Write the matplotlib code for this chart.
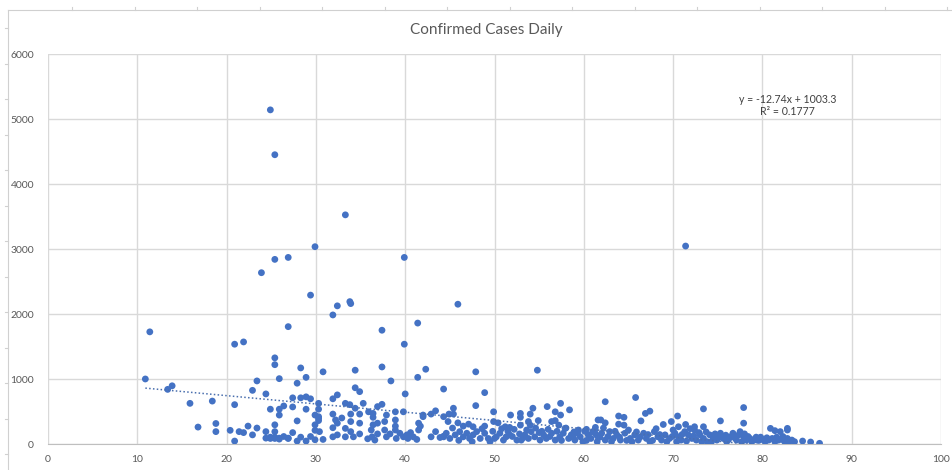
import numpy as np
import matplotlib
matplotlib.use("Agg")
import matplotlib.pyplot as plt
from matplotlib.lines import Line2D

plt.rcParams['font.family'] = ['Lato', 'DejaVu Sans']

TITLE = "Confirmed Cases Daily"
SLOPE = -12.74
INTERCEPT = 1003.3
R2 = 0.1777

# grouped by region (x, cases)
upper = [
    (24.9, 5145), (25.4, 4455), (33.3, 3530), (71.4, 3050), (29.9, 3040),
    (25.4, 2845), (26.9, 2875), (39.9, 2875), (23.9, 2640), (29.4, 2295),
    (32.4, 2130), (33.8, 2195), (33.9, 2165), (45.9, 2155), (31.9, 1990),
    (41.4, 1865), (11.4, 1730), (26.9, 1810), (37.4, 1755), (20.9, 1540),
    (21.9, 1575), (39.9, 1540), (25.4, 1330), (25.4, 1225),
]
left = [
    (10.9, 1005), (13.4, 845), (13.9, 900), (15.9, 630), (18.4, 665), (16.8, 265),
    (18.8, 320), (18.8, 195), (20.4, 215), (20.9, 610), (20.9, 50), (21.4, 195),
    (21.9, 180), (22.4, 280), (22.9, 145), (22.9, 830), (23.4, 975), (23.4, 250),
    (24.4, 775), (24.4, 195), (24.4, 95), (24.9, 540), (24.9, 110), (25.4, 300),
    (25.4, 195), (25.4, 110), (25.9, 1010), (25.9, 540), (25.9, 450), (25.9, 95),
    (26.4, 590), (26.4, 120), (26.9, 95), (27.4, 715), (27.4, 575), (27.4, 180),
    (27.9, 940), (27.9, 360), (27.9, 50), (28.3, 1175), (28.3, 715), (28.3, 110),
    (28.9, 1030), (28.9, 730), (28.9, 540), (28.9, 50), (29.4, 700), (29.4, 120),
    (29.9, 450), (29.9, 300), (29.9, 215), (29.9, 70), (30.3, 630), (30.3, 540),
    (30.3, 400), (30.4, 195), (24.9, 90), (25.4, 90), (25.9, 80), (26.9, 90),
]
middle = [
    (30.8, 1115), (34.4, 1140), (37.4, 1190), (38.4, 975), (41.4, 1030), (42.3, 1155),
    (44.3, 850), (34.4, 870), (34.9, 810), (40.0, 775), (31.9, 700), (32.4, 760),
    (33.3, 630), (33.8, 610), (34.4, 555), (35.3, 630), (35.9, 500), (36.4, 475),
    (36.9, 580), (37.4, 615), (38.9, 500), (39.8, 500), (42.0, 425), (42.9, 465),
    (43.4, 515), (44.3, 425), (30.3, 425), (30.3, 365), (31.9, 465), (32.2, 375),
    (32.4, 325), (32.9, 405), (33.9, 465), (33.9, 350), (34.9, 465), (34.9, 325),
    (36.4, 415), (36.4, 300), (36.9, 325), (37.7, 350), (37.9, 450), (38.9, 375),
    (38.9, 280), (30.8, 75), (31.9, 255), (31.9, 115), (32.4, 145), (33.3, 245),
    (33.3, 115), (33.9, 195), (34.2, 115), (34.9, 160), (35.8, 85), (36.2, 220),
    (36.3, 115), (36.6, 65), (36.9, 160), (37.7, 220), (37.9, 115), (38.3, 160),
    (38.9, 220), (39.0, 90), (39.4, 170), (39.8, 115), (40.2, 145), (40.3, 90),
    (40.6, 180), (40.9, 115), (41.3, 75), (41.5, 220), (41.5, 325), (41.7, 280),
    (42.9, 115), (43.4, 195), (43.9, 105), (44.3, 125), (42.0, 450),
]
right_mid = [
    (47.9, 1115), (54.8, 1140), (48.9, 795), (47.9, 595), (45.4, 555), (44.9, 465),
    (45.4, 465), (49.9, 500), (51.8, 450), (52.9, 475), (52.9, 415), (54.0, 465),
    (54.3, 555), (55.9, 580), (56.8, 500), (57.4, 630), (57.4, 450), (58.4, 530),
    (44.8, 350), (45.9, 330), (46.5, 280), (47.1, 310), (47.6, 270), (48.9, 280),
    (49.9, 350), (50.4, 330), (51.2, 270), (51.7, 260), (52.9, 295), (53.8, 350),
    (54.0, 295), (54.9, 365), (56.4, 350), (56.8, 365), (57.2, 295), (57.9, 245),
    (59.4, 220), (60.3, 230), (61.3, 260), (61.6, 375),
    (44.3, 115), (44.6, 170), (45.0, 90), (45.6, 145), (46.1, 195), (46.5, 115),
    (46.9, 170), (47.2, 90), (47.6, 145), (48.0, 195), (48.4, 90), (48.9, 170),
    (49.3, 90), (49.5, 40), (50.2, 115), (50.6, 170), (51.0, 65), (51.3, 115),
    (51.7, 145), (52.5, 65), (53.0, 65), (53.4, 145), (53.8, 90), (54.1, 195),
    (54.5, 115), (55.1, 65), (55.5, 145), (55.8, 90), (56.4, 170), (56.8, 65),
    (57.3, 115), (57.7, 170), (58.3, 90), (58.6, 145), (59.0, 65), (59.6, 115),
    (59.9, 40), (60.5, 145), (60.8, 90), (61.4, 145),
    (45.3, 250), (46.0, 60), (47.5, 40), (48.6, 240), (49.8, 200), (50.8, 240),
    (51.5, 200), (52.2, 230), (52.8, 160), (53.6, 220), (54.6, 250), (55.3, 200),
    (56.0, 230), (57.0, 200), (58.0, 250), (58.9, 190), (59.3, 170), (60.1, 200),
    (61.0, 190), (61.8, 110), (50.0, 90), (52.0, 120), (53.2, 100), (55.0, 180),
    (56.2, 120), (57.5, 60), (58.8, 110), (60.3, 60),
]
right = [
    (62.4, 655), (65.8, 720), (66.9, 475), (67.4, 510), (61.9, 375), (62.4, 330),
    (63.9, 435), (64.5, 415), (63.9, 310), (64.5, 295), (66.4, 360), (68.9, 305),
    (69.8, 350), (70.5, 435), (70.6, 270), (71.4, 305), (73.4, 545), (73.4, 270),
    (75.3, 360), (77.9, 565), (77.9, 325), (72.4, 270),
    (61.25, 220), (61.6, 115), (62.0, 170), (62.4, 65), (62.9, 195), (63.3, 90),
    (63.7, 145), (64.1, 65), (64.6, 170), (65.0, 220), (65.2, 90), (65.7, 145),
    (66.1, 65), (66.7, 170), (67.0, 90), (67.4, 40), (67.9, 195), (68.3, 115),
    (68.7, 65), (69.1, 145), (69.6, 90), (70.0, 220), (70.2, 170), (70.6, 115),
    (70.9, 65), (71.3, 195), (71.7, 145), (72.1, 90), (72.4, 220), (72.6, 65),
    (73.0, 145), (73.4, 90), (73.8, 40), (74.1, 145), (74.5, 90), (74.9, 65),
    (75.3, 170), (75.6, 90), (76.0, 40), (76.4, 115), (76.7, 170), (77.1, 65),
    (77.5, 195), (77.9, 115), (78.2, 65), (78.6, 90), (79.0, 65),
    (61.5, 40), (62.2, 250), (62.7, 120), (63.1, 40), (63.5, 200), (64.0, 110),
    (64.8, 60), (65.4, 40), (65.9, 190), (66.3, 110), (67.2, 150), (67.7, 60),
    (68.1, 240), (68.5, 150), (69.3, 40), (69.9, 120), (70.4, 40), (71.0, 150),
    (71.5, 50), (71.9, 240), (72.3, 130), (72.9, 180), (73.2, 40), (73.7, 190),
    (74.3, 40), (74.7, 160), (75.1, 110), (75.9, 140), (76.2, 70), (76.9, 100),
    (77.3, 140), (77.7, 40), (78.0, 160), (78.4, 120), (78.8, 40), (79.3, 110),
    (79.6, 60),
]
tail = [
    (80.9, 245), (81.4, 210), (82.0, 195), (82.8, 245), (82.8, 220), (82.8, 90),
    (83.3, 65), (84.5, 50), (85.4, 35), (86.4, 15), (79.4, 65), (80.0, 75),
    (80.3, 40), (80.7, 65), (81.1, 90), (81.4, 40), (81.8, 65), (82.2, 75),
    (82.5, 40), (79.8, 110), (80.5, 100), (81.6, 110), (82.3, 120), (83.0, 40),
    (83.6, 40),
]

pts = np.array(upper + left + middle + right_mid + right + tail)
x, cases = pts[:, 0], pts[:, 1]

fig = plt.figure(figsize=(9.52, 4.70), dpi=100)
ax = fig.add_axes([48 / 952, 1 - 444.3 / 470, (941 - 48) / 952, (444.3 - 54.3) / 470])

grid_c = '#D9D9D9'
text_c = '#595959'

ax.scatter(x, cases, s=24, color='#4472C4', edgecolors='none', zorder=3)

xt = np.linspace(x.min(), x.max(), 50)
ax.plot(xt, SLOPE * xt + INTERCEPT, linestyle=(0, (1, 1.5)), color='#4A6FAE',
        linewidth=1.1, zorder=4)

ax.set_xlim(0, 100)
ax.set_ylim(0, 6000)
ax.set_xticks(np.arange(0, 101, 10))
ax.set_yticks(np.arange(0, 6001, 1000))
ax.grid(True, color=grid_c, linewidth=1.0, zorder=0)
ax.set_axisbelow(True)
for side in ['left', 'right', 'top']:
    ax.spines[side].set_visible(False)
ax.spines['bottom'].set_color('#BFBFBF')
ax.tick_params(length=0, labelsize=7.5, labelcolor=text_c, pad=8)
ax.tick_params(axis='y', pad=10)

fig.text(486 / 952, 1 - 30 / 470, TITLE, ha='center', va='center',
         fontsize=11, color=text_c)

ax.text(82.8, 5210, f"y = {SLOPE}x + {INTERCEPT}\nR\u00b2 = {R2}", ha='center',
        va='center', fontsize=7.6, color='#404040', linespacing=1.15)

# outer frame of the screenshot
frame = dict(color='#D0D0D0', linewidth=0.8, transform=fig.transFigure)
fig.add_artist(Line2D([8 / 952, 1], [1 - 10 / 470] * 2, **frame))
fig.add_artist(Line2D([8 / 952] * 2, [0, 1 - 10 / 470], **frame))
for px in np.arange(72, 952, 62.5):
    fig.add_artist(Line2D([px / 952] * 2, [1 - 10 / 470, 1 - 7 / 470], **frame))
for py in np.arange(28, 470, 35.5):
    fig.add_artist(Line2D([5 / 952, 8 / 952], [1 - py / 470] * 2, **frame))

fig.savefig("out.png", dpi=100)
